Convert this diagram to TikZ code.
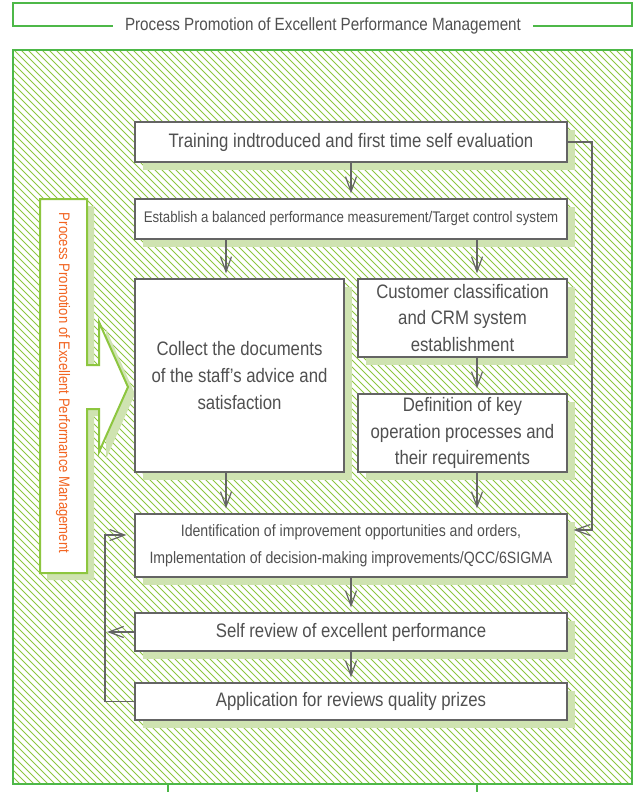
\documentclass[tikz,border=0pt]{standalone}
\usepackage{fontspec}
\setmainfont{Liberation Sans}[FakeStretch=0.86]
\usetikzlibrary{arrows.meta,shadows}
\definecolor{framegreen}{RGB}{77,184,72}
\definecolor{hatchgreen}{RGB}{141,198,63}
\definecolor{shadowgreen}{RGB}{207,227,177}
\definecolor{boxgray}{RGB}{100,100,100}
\definecolor{textgray}{RGB}{80,80,80}
\definecolor{sideorange}{RGB}{242,101,34}
\begin{document}
\begin{tikzpicture}[x=1pt,y=-1pt,
  frame/.style={draw=framegreen,line width=2.8pt},
  hatch/.style={draw=hatchgreen,line width=0.9pt},
  box/.style={draw=boxgray,line width=1.2pt,fill=white,text=textgray,align=center,inner sep=0pt,
    general shadow={fill=shadowgreen,shadow xshift=8pt,shadow yshift=-8pt},
    font=\fontsize{19.5}{26.7}\selectfont},
  arr/.style={draw=boxgray,line width=1.2pt,-{Straight Barb[length=15pt,width=11pt]},shorten >=5pt}
]
\useasboundingbox (0,0) rectangle (635,792);
% title frame
\draw[frame,line cap=rect] (112,26) -- (13,26) -- (13,3) -- (632,3) -- (632,26) -- (534,26);
\node[text=textgray,font=\fontsize{17.7}{20}\selectfont,inner sep=0pt] (title) at (323,26) {Process Promotion of Excellent Performance Management};
% hatched main box
\begin{scope}
\clip (13,50) rectangle (632,784);
\foreach \k in {-735,-728,...,635} \draw[hatch] (\k,50) -- ++(740,740);
\end{scope}
\draw[frame] (13,50) rectangle (632,784);
\draw[frame] (168,784) -- (168,793) (477,784) -- (477,793);
% side arrow shape
\fill[shadowgreen,shift={(7,7)}] (40,199) -- (87,199) -- (87,365) -- (99,365) -- (99,322) -- (128,387) -- (99,452) -- (99,409) -- (87,409) -- (87,573) -- (40,573) -- cycle;
\draw[draw=hatchgreen,line width=2pt,fill=white,line join=miter] (40,199) -- (87,199) -- (87,365) -- (99,365) -- (99,322) -- (128,387) -- (99,452) -- (99,409) -- (87,409) -- (87,573) -- (40,573) -- cycle;
\node[rotate=-90,text=sideorange,font=\fontsize{15.2}{18}\selectfont,inner sep=0pt] (side) at (63,383) {Process Promotion of Excellent Performance Management};
% boxes
\node[box,minimum width=432,minimum height=40] (b1) at (351,142) {Training indtroduced and first time self evaluation};
\node[box,minimum width=432,minimum height=40,font=\fontsize{15.4}{20}\selectfont] (b2) at (351,219) {Establish a balanced performance measurement/Target control system};
\node[box,minimum width=209,minimum height=193] (b3) at (239.5,375.5) {Collect the documents\\of the staff’s advice and\\satisfaction};
\node[box,minimum width=209,minimum height=78] (b4) at (462.5,318) {Customer classification\\and CRM system\\establishment};
\node[box,minimum width=209,minimum height=78] (b5) at (462.5,433) {Definition of key\\operation processes and\\their requirements};
\node[box,minimum width=432,minimum height=63,font=\fontsize{16.4}{26.6}\selectfont] (b6) at (351,545.5) {Identification of improvement opportunities and orders,\\Implementation of decision-making improvements/QCC/6SIGMA};
\node[box,minimum width=432,minimum height=38] (b7) at (351,632) {Self review of excellent performance};
\node[box,minimum width=432,minimum height=37] (b8) at (351,701.5) {Application for reviews quality prizes};
% connectors
\coordinate (xl) at (226,0);
\coordinate (xr) at (477,0);
\coordinate (rloop) at (592,530);
\coordinate (lloop) at (105,535);
\draw[arr] (b1) -- (b2);
\draw[arr] (b2.south -| xl) -- (b3.north -| xl);
\draw[arr] (b2.south -| xr) -- (b4.north -| xr);
\draw[arr] (b4.south -| xr) -- (b5.north -| xr);
\draw[arr] (b3.south -| xl) -- (b6.north -| xl);
\draw[arr] (b5.south -| xr) -- (b6.north -| xr);
\draw[arr] (b6) -- (b7);
\draw[arr] (b7) -- (b8);
\draw[arr,shorten >=6pt] (b1.east) -| (rloop) -- (rloop -| b6.east);
\draw[arr,shorten >=8pt] (b8.west) -| (lloop) -- (lloop -| b6.west);
\draw[arr,shorten >=2pt] (b7.west) -- (b7.west -| lloop);
\end{tikzpicture}
\end{document}
